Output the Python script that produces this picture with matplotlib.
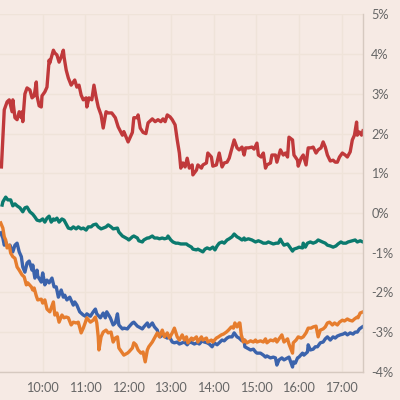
import matplotlib
matplotlib.use("Agg")
import matplotlib.pyplot as plt

# minutes after 09:00, change in %
red_t = [2, 6, 10, 13, 17, 18, 21, 24, 27, 30, 31, 32, 35, 38, 42, 45, 48, 51, 52, 55,
         58, 59, 63, 66, 69, 70, 75, 77, 80, 83, 86, 89, 90, 93, 96, 100, 103, 105, 108, 111,
         114, 117, 121, 122, 125, 129, 132, 135, 138, 142, 145, 149, 152, 157, 162, 166, 172, 174, 180, 186,
         188, 193, 194, 197, 201, 205, 208, 214, 218, 222, 226, 229, 232, 235, 239, 242, 246, 249, 252, 254,
         257, 260, 263, 266, 270, 271, 276, 278, 283, 285, 290, 292, 297, 299, 304, 308, 312, 315, 319, 322,
         326, 329, 333, 336, 340, 343, 345, 349, 354, 357, 361, 363, 367, 370, 373, 375, 380, 382, 387, 389,
         394, 398, 401, 404, 406, 411, 413, 418, 419, 423, 426, 430, 433, 437, 440, 444, 447, 451, 454, 457,
         460, 464, 468, 471, 474, 477, 481, 485, 488, 492, 495, 498, 501, 502, 505, 508, 510]
red_v = [1.16, 2.6, 2.8, 2.85, 2.55, 2.85, 2.4, 2.35, 2.55, 2.4, 2.55, 2.3, 3.0, 3.15, 3.1, 2.9, 2.95, 3.3, 2.95, 2.7,
         2.67, 2.95, 3.05, 3.17, 3.85, 3.78, 4.1, 4.03, 3.98, 3.8, 3.93, 4.1, 3.93, 3.6, 3.4, 3.22, 3.3, 3.35, 3.17, 3.22,
         2.97, 2.85, 2.9, 2.67, 2.9, 2.85, 3.22, 2.92, 2.67, 2.47, 2.14, 2.55, 2.52, 2.52, 2.4, 2.17, 1.96, 2.05, 1.79, 2.03,
         2.4, 2.4, 2.47, 2.14, 2.03, 2.0, 2.27, 2.37, 2.3, 2.35, 2.3, 2.37, 2.3, 2.47, 2.42, 2.35, 2.22, 1.84, 1.51, 1.13,
         1.26, 1.16, 1.38, 1.13, 1.21, 0.96, 1.08, 1.21, 1.13, 1.21, 1.26, 1.51, 1.41, 1.18, 1.21, 1.51, 1.16, 1.26, 1.28, 1.38,
         1.64, 1.84, 1.64, 1.59, 1.66, 1.46, 1.64, 1.64, 1.66, 1.61, 1.76, 1.46, 1.41, 1.51, 1.13, 1.21, 1.26, 1.46, 1.46, 1.28,
         1.59, 1.46, 1.51, 1.41, 1.91, 1.84, 1.46, 1.33, 1.18, 1.38, 1.46, 1.21, 1.64, 1.64, 1.66, 1.51, 1.59, 1.64, 1.79, 1.66,
         1.46, 1.31, 1.33, 1.28, 1.28, 1.41, 1.51, 1.46, 1.41, 1.54, 1.84, 1.96, 2.29, 1.96, 2.04, 1.96, 2.07]

teal_t = [3, 4, 8, 11, 15, 18, 21, 24, 28, 32, 35, 38, 42, 46, 49, 52, 56, 60, 63, 66,
          69, 72, 75, 77, 80, 83, 87, 90, 93, 96, 100, 103, 107, 110, 114, 117, 121, 124, 128, 131,
          135, 138, 142, 145, 149, 152, 156, 159, 165, 167, 172, 174, 179, 181, 186, 188, 193, 195, 200, 202,
          207, 209, 214, 217, 221, 224, 228, 231, 235, 236, 240, 243, 247, 250, 254, 257, 262, 264, 269, 271,
          276, 278, 283, 285, 288, 291, 295, 299, 302, 305, 308, 312, 315, 319, 322, 326, 329, 333, 336, 340,
          343, 344, 349, 354, 359, 363, 367, 370, 374, 377, 381, 384, 388, 391, 394, 396, 399, 404, 406, 411,
          413, 418, 420, 425, 426, 429, 432, 436, 440, 444, 447, 453, 457, 460, 464, 468, 472, 475, 479, 482,
          486, 489, 495, 499, 502, 506, 510]
teal_v = [0.2, 0.28, 0.4, 0.33, 0.33, 0.18, 0.23, 0.18, 0.13, 0.03, 0.13, 0.15, 0.03, -0.03, -0.1, -0.18, -0.2, -0.15, -0.23, -0.13,
          -0.08, -0.23, -0.15, -0.18, -0.13, -0.23, -0.15, -0.18, -0.28, -0.38, -0.4, -0.35, -0.4, -0.35, -0.4, -0.38, -0.43, -0.35, -0.35, -0.3,
          -0.28, -0.35, -0.4, -0.38, -0.35, -0.3, -0.35, -0.4, -0.38, -0.48, -0.58, -0.6, -0.65, -0.68, -0.6, -0.58, -0.63, -0.7, -0.73, -0.68,
          -0.63, -0.63, -0.58, -0.63, -0.63, -0.65, -0.63, -0.65, -0.63, -0.58, -0.68, -0.73, -0.76, -0.76, -0.78, -0.78, -0.78, -0.81, -0.86, -0.91,
          -0.93, -0.91, -0.96, -0.98, -0.91, -0.88, -0.91, -0.86, -0.93, -0.83, -0.76, -0.73, -0.76, -0.68, -0.65, -0.6, -0.53, -0.6, -0.63, -0.68,
          -0.63, -0.68, -0.65, -0.68, -0.73, -0.7, -0.73, -0.76, -0.76, -0.73, -0.76, -0.78, -0.76, -0.76, -0.66, -0.73, -0.81, -0.78, -0.83, -0.96,
          -0.91, -0.88, -0.86, -0.88, -0.76, -0.86, -0.76, -0.73, -0.76, -0.73, -0.68, -0.73, -0.76, -0.81, -0.83, -0.86, -0.83, -0.78, -0.73, -0.76,
          -0.76, -0.73, -0.7, -0.68, -0.73, -0.7, -0.73]

blue_t = [1, 4, 6, 8, 11, 14, 18, 21, 24, 27, 30, 32, 35, 38, 41, 45, 46, 49, 52, 53,
          58, 60, 63, 66, 69, 73, 76, 79, 82, 86, 89, 91, 94, 98, 103, 105, 108, 112, 117, 120,
          122, 127, 131, 134, 136, 141, 145, 148, 150, 155, 159, 162, 165, 167, 172, 174, 179, 181, 186, 188,
          193, 195, 200, 202, 207, 209, 214, 217, 221, 222, 225, 229, 232, 235, 238, 242, 245, 249, 252, 256,
          259, 263, 266, 270, 273, 277, 280, 284, 287, 291, 294, 298, 301, 305, 308, 312, 315, 319, 322, 326,
          329, 333, 336, 340, 343, 344, 347, 352, 356, 359, 361, 366, 370, 373, 375, 380, 384, 387, 389, 392,
          396, 399, 404, 406, 411, 412, 415, 418, 420, 425, 427, 432, 433, 436, 440, 443, 446, 450, 454, 457,
          460, 464, 468, 471, 474, 478, 482, 485, 488, 492, 496, 499, 502, 505, 509]
blue_v = [-0.5, -0.63, -0.81, -0.73, -0.86, -0.81, -0.98, -0.81, -0.76, -0.98, -1.1, -1.36, -1.49, -1.26, -1.21, -1.44, -1.31, -1.64, -1.44, -1.59,
          -1.74, -1.51, -1.81, -1.69, -1.76, -1.64, -1.86, -1.86, -2.12, -1.94, -2.12, -2.07, -2.19, -2.12, -2.32, -2.24, -2.32, -2.49, -2.57, -2.6,
          -2.54, -2.6, -2.49, -2.42, -2.54, -2.64, -2.52, -2.64, -2.49, -2.64, -2.82, -2.77, -2.54, -2.82, -2.92, -2.9, -2.92, -2.87, -2.77, -2.75,
          -2.85, -2.87, -2.92, -2.87, -2.77, -2.87, -2.77, -2.87, -2.95, -3.02, -3.12, -3.07, -3.12, -3.15, -3.12, -3.25, -3.27, -3.25, -3.3, -3.27,
          -3.25, -3.32, -3.25, -3.27, -3.3, -3.27, -3.3, -3.22, -3.25, -3.27, -3.3, -3.37, -3.27, -3.32, -3.27, -3.2, -3.22, -3.15, -3.12, -3.12,
          -3.02, -3.12, -3.15, -3.22, -3.2, -3.37, -3.4, -3.45, -3.43, -3.5, -3.53, -3.53, -3.58, -3.63, -3.6, -3.65, -3.63, -3.65, -3.83, -3.7,
          -3.65, -3.7, -3.65, -3.63, -3.88, -3.75, -3.78, -3.65, -3.63, -3.53, -3.58, -3.5, -3.32, -3.45, -3.43, -3.37, -3.37, -3.27, -3.25, -3.17,
          -3.12, -3.2, -3.12, -3.15, -3.1, -3.07, -3.05, -3.02, -3.07, -3.02, -3.05, -3.0, -3.0, -2.92, -2.87]

orange_t = [1, 4, 6, 8, 10, 13, 15, 18, 21, 24, 27, 31, 34, 37, 39, 44, 46, 48, 51, 53,
            58, 60, 63, 66, 70, 75, 77, 80, 83, 87, 90, 93, 96, 100, 103, 107, 110, 114, 117, 120,
            122, 127, 131, 134, 136, 138, 139, 142, 145, 149, 152, 156, 159, 162, 165, 167, 172, 174, 179, 181,
            186, 188, 191, 194, 198, 201, 204, 207, 209, 214, 217, 221, 224, 228, 231, 235, 238, 242, 245, 249,
            252, 256, 259, 262, 264, 269, 271, 276, 278, 283, 285, 290, 292, 297, 299, 304, 307, 311, 314, 318,
            321, 325, 328, 330, 333, 336, 337, 339, 342, 344, 347, 352, 356, 359, 361, 366, 370, 373, 375, 380,
            384, 387, 389, 394, 396, 399, 404, 406, 411, 412, 416, 419, 423, 426, 430, 433, 437, 440, 444, 447,
            450, 454, 457, 460, 463, 467, 470, 474, 477, 481, 484, 488, 491, 495, 498, 502, 503, 506, 510]
orange_v = [-0.25, -0.38, -0.6, -0.68, -0.88, -0.81, -1.01, -1.1, -1.14, -1.36, -1.44, -1.56, -1.61, -1.81, -1.76, -1.86, -1.94, -1.89, -2.09, -2.19,
            -2.17, -2.27, -2.19, -2.42, -2.49, -2.24, -2.57, -2.52, -2.75, -2.57, -2.64, -2.62, -2.64, -2.82, -2.75, -2.77, -2.75, -3.02, -2.9, -2.75,
            -2.64, -2.75, -2.7, -2.62, -2.77, -3.12, -3.45, -3.12, -3.0, -2.95, -3.02, -3.0, -3.25, -3.15, -3.12, -3.4, -3.53, -3.58, -3.53, -3.5,
            -3.4, -3.27, -3.32, -3.45, -3.53, -3.5, -3.75, -3.45, -3.37, -3.25, -3.15, -3.02, -3.12, -2.95, -3.12, -3.02, -3.15, -3.02, -2.9, -3.12,
            -3.2, -3.07, -3.2, -3.12, -3.27, -3.15, -3.2, -3.12, -3.25, -3.12, -3.2, -3.15, -3.25, -3.2, -3.25, -3.15, -3.12, -3.07, -3.05, -3.0,
            -2.95, -2.87, -2.9, -2.77, -2.87, -2.77, -2.77, -3.07, -3.25, -3.2, -3.27, -3.22, -3.25, -3.2, -3.25, -3.22, -3.25, -3.17, -3.27, -3.2,
            -3.22, -3.17, -3.25, -3.12, -3.07, -3.25, -3.17, -3.3, -3.53, -3.27, -3.2, -3.12, -3.15, -3.12, -3.02, -2.9, -2.9, -2.87, -2.85, -3.12,
            -2.95, -2.92, -2.87, -2.77, -2.75, -2.82, -2.77, -2.82, -2.75, -2.7, -2.72, -2.67, -2.7, -2.72, -2.67, -2.62, -2.64, -2.52, -2.49]

hour_ticks = [60, 120, 180, 240, 300, 360, 420, 480]
hour_labels = ["10:00", "11:00", "12:00", "13:00", "14:00", "15:00", "16:00", "17:00"]
pct_ticks = [-4, -3, -2, -1, 0, 1, 2, 3, 4, 5]

bg = "#f6eae4"
plt.rcParams["font.family"] = ["Lato", "DejaVu Sans"]

fig = plt.figure(figsize=(4, 4), dpi=100, facecolor=bg)
ax = fig.add_axes([0.0, 0.0705, 0.9075, 0.8933])
ax.set_facecolor(bg)

lw = 2.4
ax.plot(red_t, red_v, color="#c0393b", lw=lw)
ax.plot(teal_t, teal_v, color="#0b7a6e", lw=lw)
ax.plot(blue_t, blue_v, color="#3b63ac", lw=lw)
ax.plot(orange_t, orange_v, color="#e67d2e", lw=lw)

ax.set_xlim(0, 510)
ax.set_ylim(-4, 5)
ax.set_xticks(hour_ticks)
ax.set_xticklabels(hour_labels)
ax.set_yticks(pct_ticks)
ax.set_yticklabels([f"{p}%" for p in pct_ticks])
ax.yaxis.tick_right()

ax.grid(True, color="#efe3d9", lw=1)
ax.set_axisbelow(True)
for side in ["top", "left"]:
    ax.spines[side].set_visible(False)
for side in ["bottom", "right"]:
    ax.spines[side].set_color("#d6c9c0")
    ax.spines[side].set_linewidth(1)

ax.tick_params(length=0, labelsize=9.2, labelcolor="#666666")
ax.tick_params(axis="x", pad=7)
ax.tick_params(axis="y", pad=6)

fig.savefig("out.png", dpi=100, facecolor=bg)
